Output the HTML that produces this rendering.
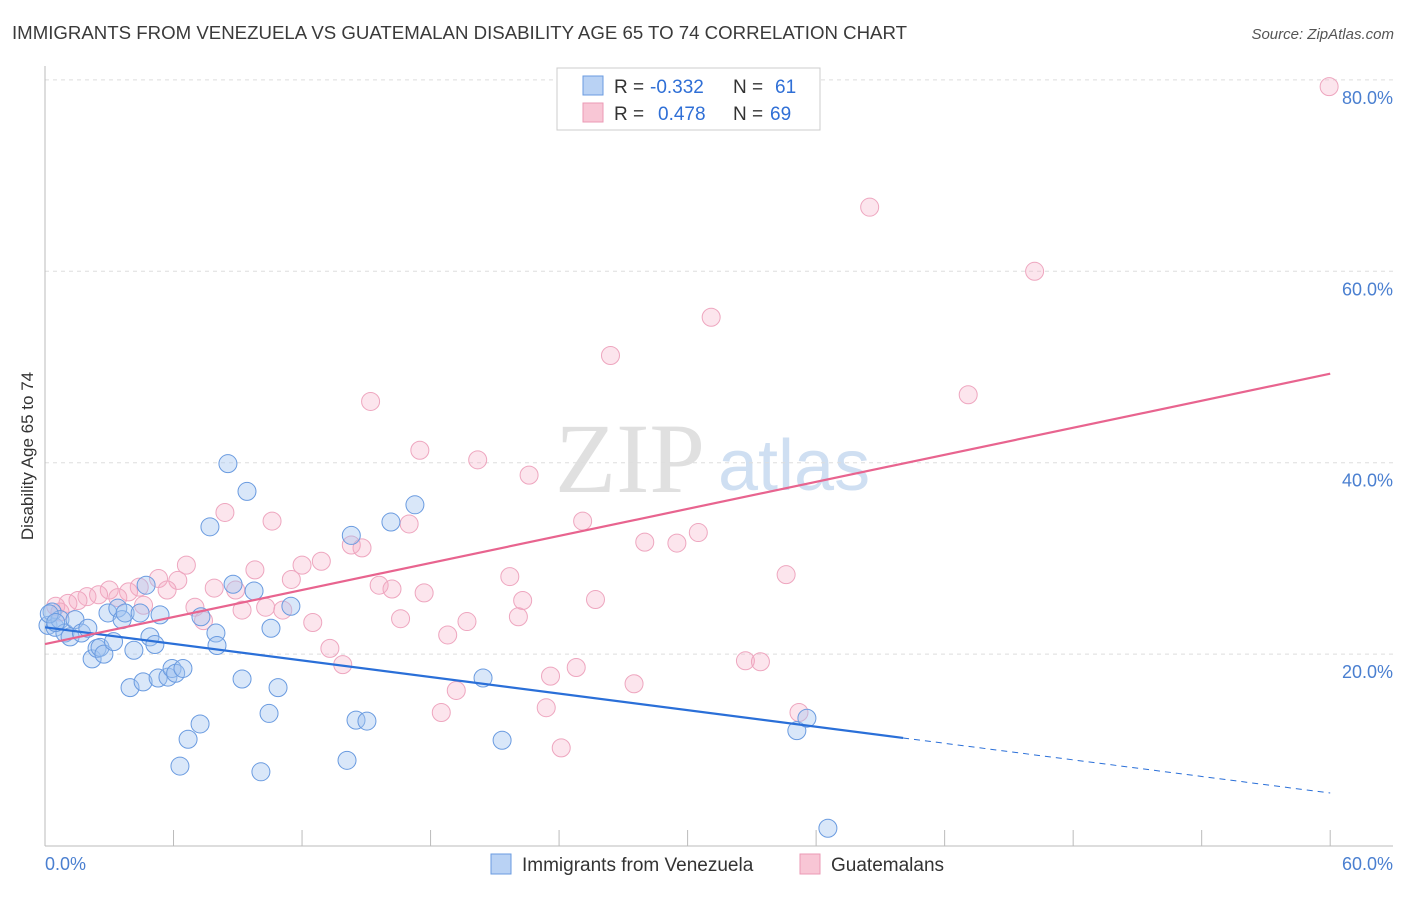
<!DOCTYPE html>
<html><head><meta charset="utf-8"><style>
body{margin:0;background:#fff;font-family:"Liberation Sans",sans-serif}
svg text{font-family:"Liberation Sans",sans-serif}
</style></head><body>
<svg id="chart" width="1406" height="892" viewBox="0 0 1406 892">
<text x="12" y="39" font-size="18" fill="#3a3a3a" textLength="895" lengthAdjust="spacingAndGlyphs">IMMIGRANTS FROM VENEZUELA VS GUATEMALAN DISABILITY AGE 65 TO 74 CORRELATION CHART</text>
<text x="1394" y="39" font-size="15" fill="#555" font-style="italic" text-anchor="end">Source: ZipAtlas.com</text>
<text x="33" y="456" font-size="17" fill="#333" text-anchor="middle" transform="rotate(-90 33 456)">Disability Age 65 to 74</text>
<text x="555" y="492" font-size="100" fill="#e0e0e0" font-family="Liberation Serif" style="font-family:'Liberation Serif',serif">ZIP</text>
<text x="718" y="490" font-size="72" fill="#cfdff2">atlas</text>
<g id="grid"></g><g id="axes"></g><g id="pts"></g><g id="lines"></g>
<g>
<rect x="557" y="68" width="263" height="62" fill="#fff" stroke="#ccc"/>
<rect x="583" y="76" width="20" height="19" fill="#b9d2f4" stroke="#6a9be0"/>
<rect x="583" y="103" width="20" height="19" fill="#f8c6d5" stroke="#eb9ab5"/>
<text x="614" y="93" font-size="19" fill="#333">R =</text>
<text x="650" y="93" font-size="19" fill="#2f6fd6">-0.332</text>
<text x="733" y="93" font-size="19" fill="#333">N =</text>
<text x="775" y="93" font-size="19" fill="#2f6fd6">61</text>
<text x="614" y="120" font-size="19" fill="#333">R =</text>
<text x="658" y="120" font-size="19" fill="#2f6fd6">0.478</text>
<text x="733" y="120" font-size="19" fill="#333">N =</text>
<text x="770" y="120" font-size="19" fill="#2f6fd6">69</text>
</g>
<g>
<rect x="491" y="854" width="20" height="20" fill="#b9d2f4" stroke="#6a9be0"/>
<text x="522" y="871" font-size="19" fill="#333">Immigrants from Venezuela</text>
<rect x="800" y="854" width="20" height="20" fill="#f8c6d5" stroke="#eb9ab5"/>
<text x="831" y="871" font-size="19" fill="#333">Guatemalans</text>
</g>
</svg>
<script>
const yTicks=[20,40,60,80];
const xTickLabels=["0.0%","60.0%"];
const blueX=[0.14,0.33,0.47,0.7,0.93,1.17,1.4,1.7,2.0,2.2,2.43,2.57,2.75,2.94,3.2,3.4,3.6,3.74,3.97,4.15,4.44,4.58,4.72,4.9,5.13,5.28,5.37,5.74,5.93,6.1,6.3,6.44,6.68,7.24,7.28,7.7,7.98,8.03,8.54,8.78,9.2,9.43,9.76,10.08,10.46,10.55,10.88,11.48,14.1,14.3,14.52,15.03,16.15,17.27,20.45,21.34,35.1,35.57,36.55,0.2,0.5];
const blueY=[23.0,24.4,22.8,23.6,22.2,21.8,23.6,22.2,22.7,19.5,20.6,20.7,20.0,24.3,21.3,24.8,23.6,24.3,16.5,20.4,24.3,17.1,27.2,21.8,21.0,17.5,24.1,17.6,18.5,18.0,8.3,18.5,11.1,12.7,23.9,33.3,22.2,20.9,39.9,27.3,17.4,37.0,26.6,7.7,13.8,22.7,16.5,25.0,8.9,32.4,13.1,13.0,33.8,35.6,17.5,11.0,12.0,13.3,1.8,24.2,23.3];
const pinkX=[59.95,38.5,46.2,31.1,26.4,43.1,15.2,17.5,20.2,22.6,8.4,10.6,17.0,25.1,30.5,28.0,29.5,14.3,14.8,12.9,6.6,12.0,9.8,34.6,21.7,6.2,11.5,5.3,15.6,4.4,7.9,16.2,3.0,5.7,3.9,8.9,17.7,2.5,1.96,3.4,1.54,25.7,22.3,1.07,4.6,7.0,10.3,9.2,11.1,0.5,0.7,7.4,16.6,22.1,12.5,19.7,18.8,13.3,32.7,33.4,13.9,24.8,23.6,27.5,19.2,18.5,23.4,35.2,24.1];
const pinkY=[79.3,66.7,60.0,55.2,51.2,47.1,46.4,41.3,40.3,38.7,34.8,33.9,33.6,33.9,32.7,31.7,31.6,31.4,31.1,29.7,29.3,29.3,28.8,28.3,28.1,27.7,27.8,27.9,27.2,27.0,26.9,26.8,26.7,26.7,26.5,26.7,26.4,26.2,26.0,25.9,25.6,25.7,25.6,25.3,25.1,24.9,24.9,24.6,24.6,25.0,24.4,23.5,23.7,23.9,23.3,23.4,22.0,20.6,19.3,19.2,18.9,18.6,17.7,16.9,16.2,13.9,14.4,13.9,10.2];
const blueFit=[22.8,-0.2886];
const pinkFit=[21.05,0.4708];
const NS="http://www.w3.org/2000/svg";
const X=v=>45+v*21.42, Y=v=>845.5-v*9.57;
function mk(tag,attrs,parent){const e=document.createElementNS(NS,tag);for(const k in attrs)e.setAttribute(k,attrs[k]);parent.appendChild(e);return e;}
const grid=document.getElementById('grid'),axes=document.getElementById('axes'),pts=document.getElementById('pts'),lines=document.getElementById('lines');
yTicks.forEach(t=>{
 const l=mk('line',{x1:45,x2:1393,y1:Y(t),y2:Y(t),stroke:'#ddd','stroke-dasharray':'4,4'},grid);
 
 
 const tx=mk('text',{x:1393,y:Y(t)+24,'font-size':18,fill:'#4a7fd0','text-anchor':'end'},grid);
 tx.textContent=t.toFixed(1)+'%';
 
 
});
const ax=mk('line',{x1:45,x2:45,y1:66,y2:846,stroke:'#bbb'},axes);


const bx=mk('line',{x1:45,x2:1393,y1:846,y2:846,stroke:'#bbb'},axes);


for(let i=0;i<=10;i++){const t=mk('line',{x1:X(i*6),x2:X(i*6),y1:830,y2:846,stroke:'#bbb'},axes);
 
 }
[[0,'start',45],[60,'end',1393]].forEach((d,i)=>{const t=mk('text',{x:d[2],y:870,'font-size':18,fill:'#4a7fd0','text-anchor':d[1]},axes);t.textContent=xTickLabels[i];
 
 });
function dots(xs,ys,fill,stroke,name){xs.forEach((x,i)=>{const c=mk('circle',{cx:X(x),cy:Y(ys[i]),r:9,fill:fill,stroke:stroke,'stroke-width':1},pts);
 
 });}
dots(pinkX,pinkY,'rgba(245,170,195,0.3)','#eea6bf','guatemalans-point');
dots(blueX,blueY,'rgba(160,195,240,0.4)','#6a9be0','venezuela-point');
const bl=mk('line',{x1:X(0),y1:Y(blueFit[0]),x2:X(40.06),y2:Y(blueFit[0]+blueFit[1]*40.06),stroke:'#2a6fd8','stroke-width':2.2},lines);


const bd=mk('line',{x1:X(40.06),y1:Y(blueFit[0]+blueFit[1]*40.06),x2:X(60),y2:Y(blueFit[0]+blueFit[1]*60),stroke:'#2a6fd8','stroke-width':1,'stroke-dasharray':'6,5'},lines);


const pl=mk('line',{x1:X(0),y1:Y(pinkFit[0]),x2:X(60),y2:Y(pinkFit[0]+pinkFit[1]*60),stroke:'#e8648f','stroke-width':2.2},lines);


</script>
</body></html>
